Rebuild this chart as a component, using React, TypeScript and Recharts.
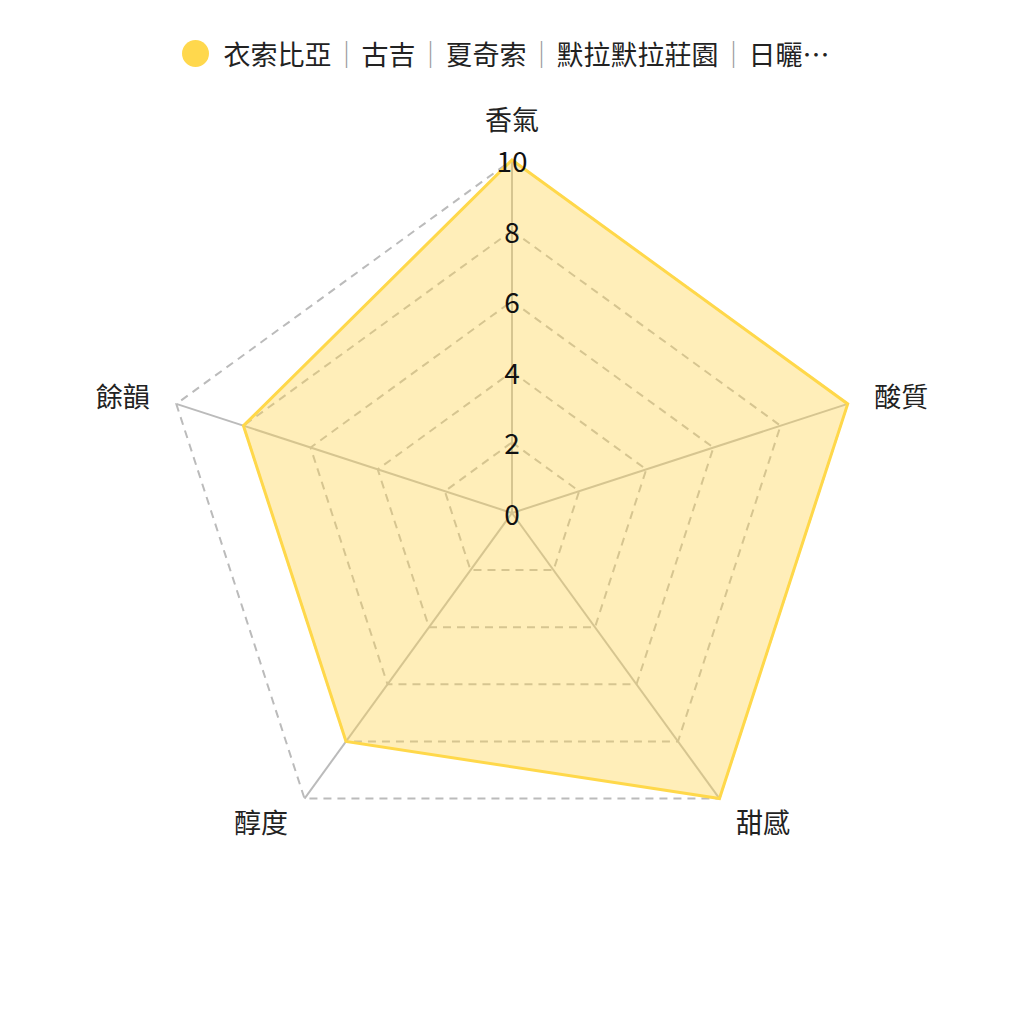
import { RadarChart, Radar, PolarGrid, PolarAngleAxis, PolarRadiusAxis, Legend } from "recharts";

// Flavour attributes and scores
const attributes = ["香氣", "酸質", "甜感", "醇度", "餘韻"];
const scores = [10, 10, 10, 8, 8];
const radiusTicks = [0, 2, 4, 6, 8, 10];
const seriesName = "衣索比亞｜古吉｜夏奇索｜默拉默拉莊園｜日曬…";

const data = attributes.map((attr, i) => ({ attr, score: scores[i] }));

const CX = 512;
const CY = 513;
const R = 353;
const FONT = '"Noto Sans CJK TC", "Noto Sans", sans-serif';

const AngleTick = (props: any) => {
  const { payload } = props;
  const angle = (payload.coordinate * Math.PI) / 180;
  const dx = Math.cos(angle);
  const dy = -Math.sin(angle);
  const isTop = Math.abs(dx) < 0.01;
  const d = isTop ? 42 : 28;
  const x = CX + (R + d) * dx;
  const y = CY + (R + d) * dy;
  const anchor = isTop ? "middle" : dx > 0 ? "start" : "end";
  return (
    <text
      x={x}
      y={y}
      textAnchor={anchor}
      dominantBaseline="central"
      fontSize={27}
      fontFamily={FONT}
      fill="#222"
    >
      {payload.value}
    </text>
  );
};

const RadiusTick = (props: any) => {
  const { x, y, payload } = props;
  return (
    <text
      x={x}
      y={y}
      textAnchor="middle"
      dominantBaseline="central"
      fontSize={28}
      fontFamily={FONT}
      fill="#111"
    >
      {payload.value}
    </text>
  );
};

const CustomLegend = () => {
  const parts = seriesName.split("｜");
  return (
    <div
      style={{
        display: "flex",
        justifyContent: "center",
        alignItems: "center",
        fontFamily: FONT,
        fontSize: 27,
        color: "#222",
        marginLeft: -13,
      }}
    >
      <span
        style={{
          display: "inline-block",
          width: 27,
          height: 27,
          borderRadius: "50%",
          background: "#FFD84D",
          marginRight: 15,
        }}
      />
      <span>
        {parts.map((p, i) => (
          <span key={i}>
            {i > 0 && <span style={{ color: "#999", margin: "0 1.5px" }}>｜</span>}
            {p}
          </span>
        ))}
      </span>
    </div>
  );
};

export default function App() {
  return (
    <div style={{ width: 1024, height: 1024, background: "#fff" }}>
      <style>{`body{margin:0}`}</style>
      <RadarChart width={1024} height={1024} data={data} cx={CX} cy={CY} outerRadius={R} margin={{ top: 0, right: 0, bottom: 0, left: 0 }}>
        <Legend
          verticalAlign="top"
          content={<CustomLegend />}
          wrapperStyle={{ position: "absolute", top: 34, left: 0, width: 1024 }}
        />
        <PolarGrid gridType="polygon" stroke="#bbb" strokeWidth={2} strokeDasharray="8 6" radialLines={false} />
        <PolarGrid gridType="polygon" stroke="#bbb" strokeWidth={2} polarRadius={[]} />
        <PolarAngleAxis dataKey="attr" tick={<AngleTick />} tickLine={false} axisLine={false} />
        <PolarRadiusAxis
          angle={90}
          domain={[0, 10]}
          ticks={radiusTicks as any}
          tickCount={6}
          tick={<RadiusTick />}
          axisLine={false}
          tickLine={false}
        />
        <Radar
          name={seriesName}
          dataKey="score"
          stroke="#FFD84A"
          strokeWidth={3}
          fill="#FFD54F"
          fillOpacity={0.4}
          isAnimationActive={false}
        />
      </RadarChart>
    </div>
  );
}
